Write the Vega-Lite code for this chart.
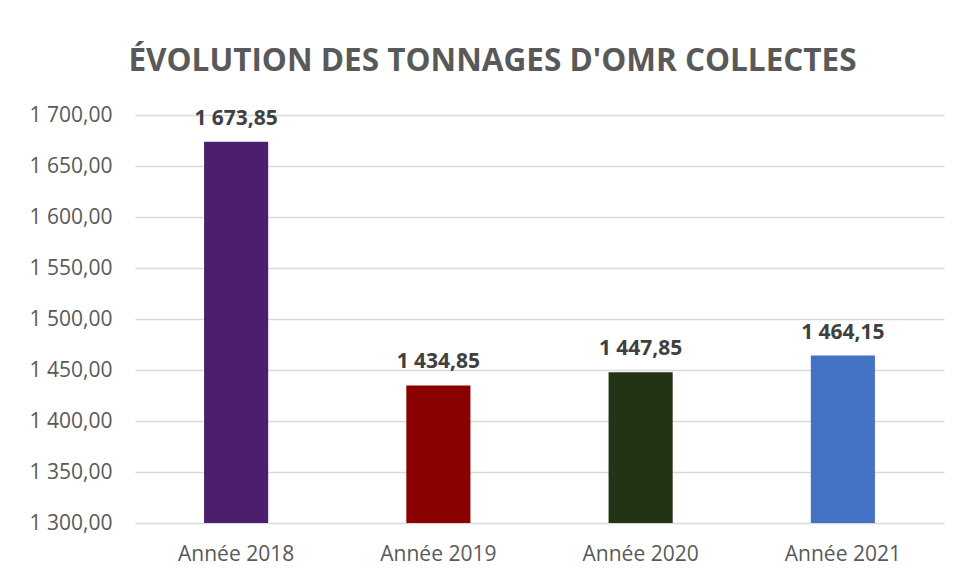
{
  "$schema": "https://vega.github.io/schema/vega-lite/v6.json",
  "width": 809,
  "height": 408,
  "autosize": "none",
  "padding": {"left": 135, "top": 115, "right": 16, "bottom": 56},
  "background": "white",
  "config": {
    "locale": {"number": {"decimal": ",", "thousands": " ", "grouping": [3], "currency": ["", " €"]}},
    "view": {"stroke": null},
    "font": "Open Sans"
  },
  "title": {
    "text": "ÉVOLUTION DES TONNAGES D'OMR COLLECTES",
    "font": "Open Sans",
    "fontSize": 31.5,
    "fontWeight": "bold",
    "color": "#595959",
    "anchor": "middle",
    "dx": -47,
    "offset": 27
  },
  "data": {
    "values": [
      {"annee": "Année 2018", "tonnage": 1673.85},
      {"annee": "Année 2019", "tonnage": 1434.85},
      {"annee": "Année 2020", "tonnage": 1447.85},
      {"annee": "Année 2021", "tonnage": 1464.15}
    ]
  },
  "encoding": {
    "x": {
      "field": "annee",
      "type": "nominal",
      "sort": null,
      "scale": {"paddingInner": 0.683, "paddingOuter": 0.3415},
      "axis": {
        "title": null,
        "labelAngle": 0,
        "labelFont": "Open Sans",
        "labelFontSize": 21,
        "labelColor": "#595959",
        "labelPadding": 20,
        "ticks": false,
        "domain": false
      }
    },
    "y": {
      "field": "tonnage",
      "type": "quantitative",
      "scale": {"domain": [1300, 1700], "nice": false, "zero": false},
      "axis": {
        "title": null,
        "values": [1300, 1350, 1400, 1450, 1500, 1550, 1600, 1650, 1700],
        "format": ",.2f",
        "labelFont": "Open Sans",
        "labelFontSize": 21,
        "labelColor": "#595959",
        "labelPadding": 23,
        "ticks": false,
        "domain": false,
        "grid": true,
        "gridColor": "#d9d9d9",
        "gridWidth": 1.5
      }
    }
  },
  "layer": [
    {
      "mark": {"type": "bar", "clip": true},
      "encoding": {
        "color": {
          "field": "annee",
          "type": "nominal",
          "scale": {
            "domain": ["Année 2018", "Année 2019", "Année 2020", "Année 2021"],
            "range": ["#4C1F6E", "#8B0000", "#223316", "#4472C4"]
          },
          "legend": null
        }
      }
    },
    {
      "mark": {"type": "text", "baseline": "alphabetic", "dy": -17, "font": "Open Sans", "fontSize": 21, "fontWeight": "bold", "color": "#404040"},
      "encoding": {
        "text": {"field": "tonnage", "type": "quantitative", "format": ",.2f"}
      }
    }
  ]
}
